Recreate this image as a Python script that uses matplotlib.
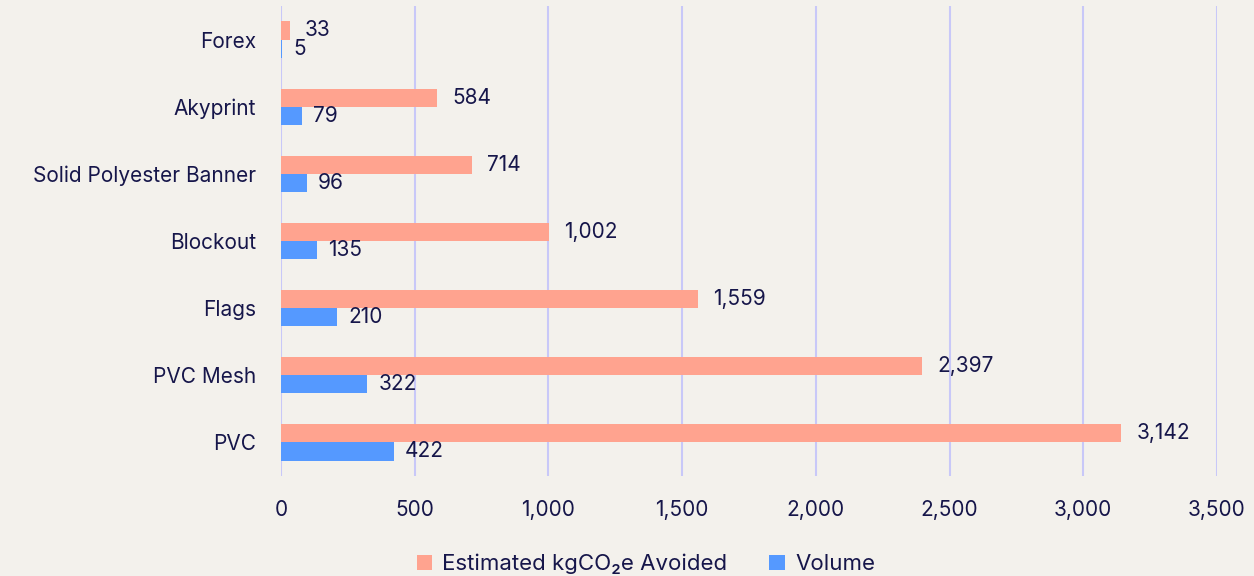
import matplotlib.pyplot as plt
from matplotlib.ticker import FuncFormatter

# data (top to bottom as in the picture)
categories = ["Forex", "Akyprint", "Solid Polyester Banner", "Blockout", "Flags", "PVC Mesh", "PVC"]
co2_avoided = [33, 584, 714, 1002, 1559, 2397, 3142]
volume = [5, 79, 96, 135, 210, 322, 422]
x_ticks = [0, 500, 1000, 1500, 2000, 2500, 3000, 3500]

bg = "#f3f1ec"
navy = "#16164a"
salmon = "#ffa38f"
blue = "#5599ff"
grid_col = "#c8c8f8"
fs = 15

plt.rcParams['font.family'] = ['Inter', 'DejaVu Sans']

fig = plt.figure(figsize=(12.54, 5.76), dpi=100, facecolor=bg)
ax = fig.add_axes([0.2241, 0.1736, 0.7464, 0.8160], facecolor=bg)

pos = list(range(len(categories)))
h = 0.27
b1 = ax.barh([p - h / 2 for p in pos], co2_avoided, height=h, color=salmon,
             label="Estimated kgCO₂e Avoided", zorder=3)
b2 = ax.barh([p + h / 2 for p in pos], volume, height=h, color=blue,
             label="Volume", zorder=3)

for bar, v in zip(b1, co2_avoided):
    ax.annotate(f"{v:,}", (bar.get_width(), bar.get_y() + bar.get_height() / 2),
                xytext=(11, 0), textcoords="offset points", va="center",
                ha="left", fontsize=fs, color=navy)
for bar, v in zip(b2, volume):
    ax.annotate(f"{v:,}", (bar.get_width(), bar.get_y() + bar.get_height() / 2),
                xytext=(8, 0), textcoords="offset points", va="center",
                ha="left", fontsize=fs, color=navy)

ax.set_ylim(len(categories) - 0.5, -0.5)
ax.set_xlim(0, 3500)
ax.set_yticks(pos)
ax.set_yticklabels(categories)
ax.set_xticks(x_ticks)
ax.xaxis.set_major_formatter(FuncFormatter(lambda x, p: f"{int(x):,}"))
ax.tick_params(axis='both', length=0, labelsize=fs, labelcolor=navy)
ax.tick_params(axis='x', pad=17)
ax.tick_params(axis='y', pad=18)
ax.grid(axis='x', color=grid_col, linewidth=1.5, zorder=0)
for s in ax.spines.values():
    s.set_visible(False)

fig.legend(handles=[b1, b2], loc="lower center", bbox_to_anchor=(0.515, -0.032),
           ncol=2, frameon=False, fontsize=16, labelcolor=navy,
           handlelength=0.7, handleheight=0.7, handletextpad=0.45, columnspacing=1.9)

fig.savefig("out.png", dpi=100, facecolor=bg)
